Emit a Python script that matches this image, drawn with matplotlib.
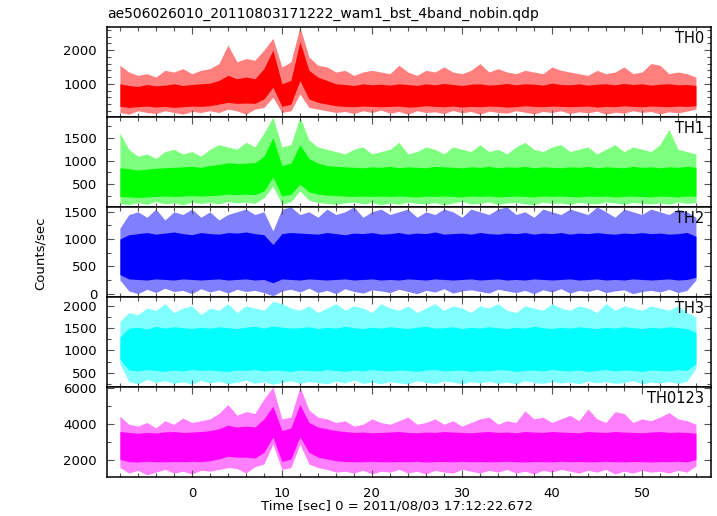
import numpy as np
import matplotlib
matplotlib.use("Agg")
import matplotlib.pyplot as plt
from matplotlib.ticker import MultipleLocator

plt.rcParams['font.family'] = ['DejaVu Sans']

# time grid (sec), one envelope value per second
t = np.arange(-8, 57)

# TH0: spike tops / spike bottoms / dense core top / dense core bottom
th0_hi = [1550, 1350, 1250, 1300, 1200, 1400, 1350, 1450, 1300, 1400,
          1450, 1600, 2150, 1650, 1750, 1700, 2000, 2350, 1500, 1650,
          2690, 1800, 1550, 1500, 1350, 1400, 1250, 1350, 1400, 1350,
          1300, 1550, 1350, 1250, 1400, 1350, 1500, 1350, 1300, 1400,
          1600, 1350, 1450, 1350, 1300, 1400, 1350, 1300, 1500, 1400,
          1350, 1300, 1250, 1400, 1300, 1350, 1500, 1300, 1350, 1600,
          1550, 1300, 1350, 1300, 1200]
th0_lo = [150, 100, 200, 150, 120, 200, 150, 100, 180, 150,
          200, 150, 250, 200, 100, 250, 300, 600, 150, 200,
          700, 300, 250, 200, 150, 180, 120, 200, 150, 220,
          130, 180, 100, 200, 150, 170, 120, 210, 140, 180,
          100, 190, 150, 130, 200, 160, 110, 180, 150, 200,
          120, 170, 140, 190, 100, 160, 130, 200, 150, 180,
          110, 170, 140, 190, 250]
th0_chi = [1000, 950, 920, 980, 940, 960, 1000, 950, 980, 1000,
           1020, 1100, 1250, 1150, 1200, 1150, 1450, 2000, 1000, 1100,
           2250, 1400, 1200, 1100, 1000, 980, 950, 1000, 970, 990,
           960, 1000, 980, 950, 1000, 970, 1010, 980, 950, 990,
           1000, 960, 980, 1010, 970, 1000, 990, 960, 1020, 980,
           970, 1000, 960, 990, 1000, 970, 1010, 980, 1000, 960,
           990, 1000, 970, 980, 950]
th0_clo = [330, 300, 320, 340, 310, 330, 300, 320, 340, 330,
           350, 400, 450, 420, 430, 420, 550, 900, 330, 400,
           1100, 550, 450, 400, 350, 330, 320, 340, 330, 320,
           330, 340, 310, 320, 350, 330, 320, 340, 310, 330,
           320, 340, 330, 310, 320, 350, 330, 320, 340, 330,
           320, 330, 340, 310, 330, 320, 350, 330, 320, 340,
           330, 320, 340, 330, 350]

# TH1
th1_hi = [1600, 1250, 1100, 1150, 1050, 1200, 1250, 1150, 1200, 1100,
          1250, 1350, 1300, 1250, 1400, 1300, 1600, 1950, 1300, 1350,
          1950, 1450, 1300, 1250, 1200, 1150, 1250, 1300, 1150, 1200,
          1250, 1400, 1150, 1200, 1300, 1250, 1150, 1300, 1250, 1200,
          1350, 1200, 1250, 1150, 1300, 1400, 1250, 1200, 1300, 1350,
          1200, 1250, 1300, 1150, 1250, 1350, 1200, 1300, 1250, 1200,
          1350, 1680, 1250, 1200, 1150]
th1_lo = [80, 50, 100, 60, 120, 70, 90, 50, 110, 80,
          100, 70, 120, 90, 110, 80, 200, 450, 60, 120,
          350, 150, 100, 80, 60, 90, 110, 70, 100, 50,
          90, 60, 110, 80, 70, 100, 50, 90, 120, 70,
          80, 110, 60, 90, 100, 70, 50, 110, 80, 90,
          60, 100, 80, 70, 110, 90, 60, 100, 80, 70,
          90, 60, 110, 80, 100]
th1_chi = [850, 830, 800, 820, 840, 850, 860, 870, 880, 860,
           900, 920, 960, 940, 950, 960, 1100, 1500, 900, 950,
           1350, 1050, 950, 900, 880, 870, 860, 850, 870, 860,
           880, 850, 870, 860, 850, 880, 870, 860, 850, 870,
           860, 880, 850, 870, 860, 880, 850, 870, 860, 850,
           870, 860, 880, 850, 870, 860, 850, 880, 860, 870,
           850, 870, 860, 880, 860]
th1_clo = [230, 220, 210, 220, 230, 240, 230, 240, 250, 240,
           250, 260, 280, 270, 280, 270, 350, 650, 240, 280,
           500, 330, 280, 260, 250, 240, 230, 240, 230, 240,
           230, 240, 230, 220, 240, 230, 240, 230, 220, 240,
           230, 240, 220, 230, 240, 230, 220, 240, 230, 240,
           230, 220, 240, 230, 240, 220, 230, 240, 230, 220,
           240, 230, 220, 240, 230]

# TH2
th2_hi = [1200, 1450, 1500, 1400, 1550, 1350, 1500, 1450, 1550, 1400,
          1500, 1350, 1450, 1500, 1550, 1450, 1500, 1150, 1550, 1590,
          1450, 1500, 1400, 1550, 1450, 1500, 1590, 1400, 1500, 1550,
          1450, 1500, 1550, 1400, 1500, 1450, 1550, 1500, 1400, 1550,
          1500, 1450, 1550, 1590, 1450, 1500, 1400, 1550, 1500, 1450,
          1550, 1500, 1450, 1590, 1500, 1400, 1550, 1500, 1450, 1550,
          1500, 1450, 1550, 1500, 1400]
th2_lo = [250, 50, 0, 80, 20, 100, 40, 60, 0, 90,
          30, 70, 10, 80, 40, 60, 20, -40, 50, 80,
          30, 100, 20, 60, 0, 90, 40, 10, 70, 50,
          20, 80, 40, 0, 60, 30, 90, 10, 50, 70,
          40, 10, 80, 50, 20, 60, 0, 70, 30, 90,
          10, 60, 40, 80, 20, 50, 70, 0, 40, 60,
          30, 80, 20, 60, 250]
th2_chi = [1000, 1080, 1100, 1120, 1090, 1110, 1130, 1100, 1080, 1120,
           1100, 1090, 1120, 1110, 1130, 1100, 1080, 900, 1100, 1120,
           1110, 1100, 1090, 1120, 1100, 1080, 1110, 1100, 1120, 1090,
           1100, 1120, 1090, 1110, 1100, 1130, 1090, 1100, 1110, 1090,
           1120, 1100, 1090, 1110, 1100, 1120, 1090, 1110, 1100, 1120,
           1090, 1110, 1100, 1120, 1100, 1090, 1110, 1100, 1120, 1100,
           1110, 1090, 1100, 1120, 1050]
th2_clo = [350, 270, 260, 250, 270, 260, 250, 270, 260, 250,
           260, 270, 250, 260, 270, 250, 260, 200, 270, 260,
           250, 270, 260, 250, 260, 270, 250, 260, 270, 250,
           260, 250, 270, 260, 250, 270, 260, 250, 260, 270,
           250, 260, 270, 250, 260, 250, 270, 260, 250, 260,
           270, 250, 260, 270, 250, 260, 250, 270, 260, 250,
           260, 270, 250, 260, 300]

# TH3
th3_hi = [1650, 1850, 1800, 1950, 1900, 2050, 1850, 1950, 2000, 1800,
          1950, 1900, 2050, 1850, 2000, 1950, 1900, 2100, 2050, 1950,
          1900, 2000, 1850, 1950, 2050, 1900, 2000, 1950, 1850, 2050,
          1950, 1900, 2000, 1850, 1950, 2050, 1900, 2000, 1950, 1850,
          2000, 1950, 2050, 1900, 1850, 2000, 1950, 1900, 2050, 1950,
          1900, 2000, 1950, 1850, 2050, 1900, 2000, 1950, 1900, 2000,
          1950, 1900, 2000, 1850, 1750]
th3_lo = [700, 300, 250, 350, 280, 320, 260, 300, 240, 330,
          270, 310, 250, 290, 330, 260, 300, 240, 280, 320,
          260, 300, 280, 250, 310, 270, 330, 260, 290, 250,
          300, 270, 250, 320, 280, 260, 310, 290, 250, 300,
          270, 310, 260, 290, 250, 320, 280, 260, 300, 270,
          290, 250, 310, 270, 300, 260, 280, 320, 250, 290,
          270, 300, 260, 310, 600]
th3_chi = [1300, 1500, 1520, 1480, 1540, 1500, 1530, 1510, 1490, 1520,
           1500, 1530, 1510, 1490, 1520, 1540, 1500, 1550, 1520, 1500,
           1510, 1530, 1490, 1520, 1500, 1540, 1510, 1490, 1520, 1500,
           1530, 1510, 1490, 1520, 1540, 1500, 1510, 1530, 1490, 1520,
           1500, 1530, 1510, 1490, 1520, 1500, 1540, 1510, 1490, 1520,
           1500, 1530, 1510, 1490, 1520, 1500, 1530, 1510, 1490, 1520,
           1500, 1530, 1510, 1490, 1400]
th3_clo = [800, 560, 540, 570, 550, 530, 560, 540, 570, 550,
           560, 540, 530, 560, 550, 570, 540, 560, 550, 530,
           560, 550, 540, 570, 550, 530, 560, 540, 570, 550,
           540, 560, 550, 530, 560, 570, 540, 550, 560, 530,
           550, 540, 570, 560, 530, 550, 560, 540, 570, 550,
           540, 560, 530, 550, 570, 540, 560, 550, 530, 560,
           550, 540, 570, 550, 700]

# TH0123 (sum of the four bands)
th0123_hi = [4450, 4000, 3900, 4100, 3800, 4200, 4000, 4350, 4100, 4200,
             4300, 4600, 5100, 4500, 4700, 4600, 5400, 6070, 4300, 4400,
             6070, 4800, 4400, 4300, 4100, 4200, 3900, 4000, 4300, 4100,
             4000, 4200, 4400, 4000, 4100, 4300, 4000, 4200, 3900, 4100,
             4300, 4400, 4000, 4200, 4100, 4750, 4300, 4400, 4100, 4300,
             4500, 4200, 4850, 4300, 4100, 4700, 4600, 4100, 4300, 4200,
             4400, 4650, 4300, 4200, 4000]
th0123_lo = [1600, 1300, 1450, 1200, 1350, 1500, 1300, 1400, 1250, 1450,
             1400, 1500, 1600, 1550, 1300, 1650, 1800, 2900, 1500, 1600,
             2900, 1800, 1600, 1500, 1350, 1400, 1300, 1450, 1250, 1400,
             1350, 1500, 1300, 1400, 1250, 1450, 1350, 1300, 1500, 1400,
             1300, 1450, 1350, 1500, 1300, 1400, 1250, 1450, 1350, 1500,
             1400, 1300, 1450, 1350, 1500, 1250, 1400, 1300, 1450, 1350,
             1400, 1300, 1450, 1350, 1700]
th0123_chi = [3600, 3550, 3500, 3550, 3520, 3580, 3600, 3550, 3570, 3600,
              3650, 3750, 3950, 3850, 3900, 3850, 4300, 5000, 3650, 3800,
              5100, 4100, 3850, 3750, 3650, 3600, 3550, 3570, 3530, 3550,
              3570, 3600, 3550, 3530, 3570, 3550, 3600, 3570, 3550, 3530,
              3570, 3600, 3550, 3570, 3530, 3600, 3570, 3550, 3600, 3570,
              3550, 3530, 3600, 3570, 3550, 3600, 3570, 3550, 3530, 3570,
              3600, 3550, 3570, 3550, 3500]
th0123_clo = [2050, 1930, 1910, 1950, 1930, 1920, 1940, 1930, 1950, 1930,
              1980, 2080, 2230, 2180, 2180, 2130, 2450, 3300, 1930, 2080,
              3300, 2450, 2180, 2080, 1980, 1940, 1930, 1920, 1950, 1930,
              1920, 1940, 1930, 1950, 1910, 1930, 1940, 1920, 1950, 1930,
              1940, 1920, 1930, 1950, 1930, 1910, 1940, 1930, 1920, 1950,
              1930, 1940, 1920, 1930, 1950, 1930, 1920, 1940, 1930, 1910,
              1940, 1930, 1950, 1920, 2050]

bands = ['TH0', 'TH1', 'TH2', 'TH3', 'TH0123']
colors = ['#ff0000', '#00ff00', '#0000ff', '#00ffff', '#ff00ff']
series = [(th0_hi, th0_lo, th0_chi, th0_clo),
          (th1_hi, th1_lo, th1_chi, th1_clo),
          (th2_hi, th2_lo, th2_chi, th2_clo),
          (th3_hi, th3_lo, th3_chi, th3_clo),
          (th0123_hi, th0123_lo, th0123_chi, th0123_clo)]
ylims = [(20, 2690), (5, 1950), (-60, 1590), (180, 2200), (1080, 6070)]
major = [1000, 500, 500, 500, 2000]
minor = [200, 250, 250, 250, 1000]

fig, axes = plt.subplots(5, 1, figsize=(7.17, 5.16), dpi=100, sharex=True)
fig.subplots_adjust(left=0.149, right=0.992, top=0.948, bottom=0.0756, hspace=0)

for ax, name, col, (hi, lo, chi, clo), yl, mj, mn in zip(axes, bands, colors, series, ylims, major, minor):
    ax.fill_between(t, lo, hi, color=col, alpha=0.5, lw=0)
    ax.fill_between(t, clo, chi, color=col, lw=0)
    ax.set_ylim(*yl)
    ax.set_xlim(-9.45, 57.7)
    ax.yaxis.set_major_locator(MultipleLocator(mj))
    ax.yaxis.set_minor_locator(MultipleLocator(mn))
    ax.xaxis.set_major_locator(MultipleLocator(10))
    ax.xaxis.set_minor_locator(MultipleLocator(2))
    ax.tick_params(which='both', direction='in', top=True, right=True, labelsize=9.5, color='#555555', pad=7)
    ax.tick_params(which='major', length=5, width=0.8)
    ax.tick_params(which='minor', length=3, width=0.8)
    for s in ax.spines.values():
        s.set_linewidth(1.1)
    ax.text(0.988, 0.95, name, transform=ax.transAxes, ha='right', va='top', fontsize=10.5)

fig.text(0.554, 0.006, 'Time [sec] 0 = 2011/08/03 17:12:22.672', ha='center', va='bottom', fontsize=9.5)
fig.text(0.056, 0.51, 'Counts/sec', rotation=90, ha='center', va='center', fontsize=9.5)
fig.text(0.149, 0.959, 'ae506026010_20110803171222_wam1_bst_4band_nobin.qdp', ha='left', va='bottom', fontsize=10)

fig.savefig('out.png')
